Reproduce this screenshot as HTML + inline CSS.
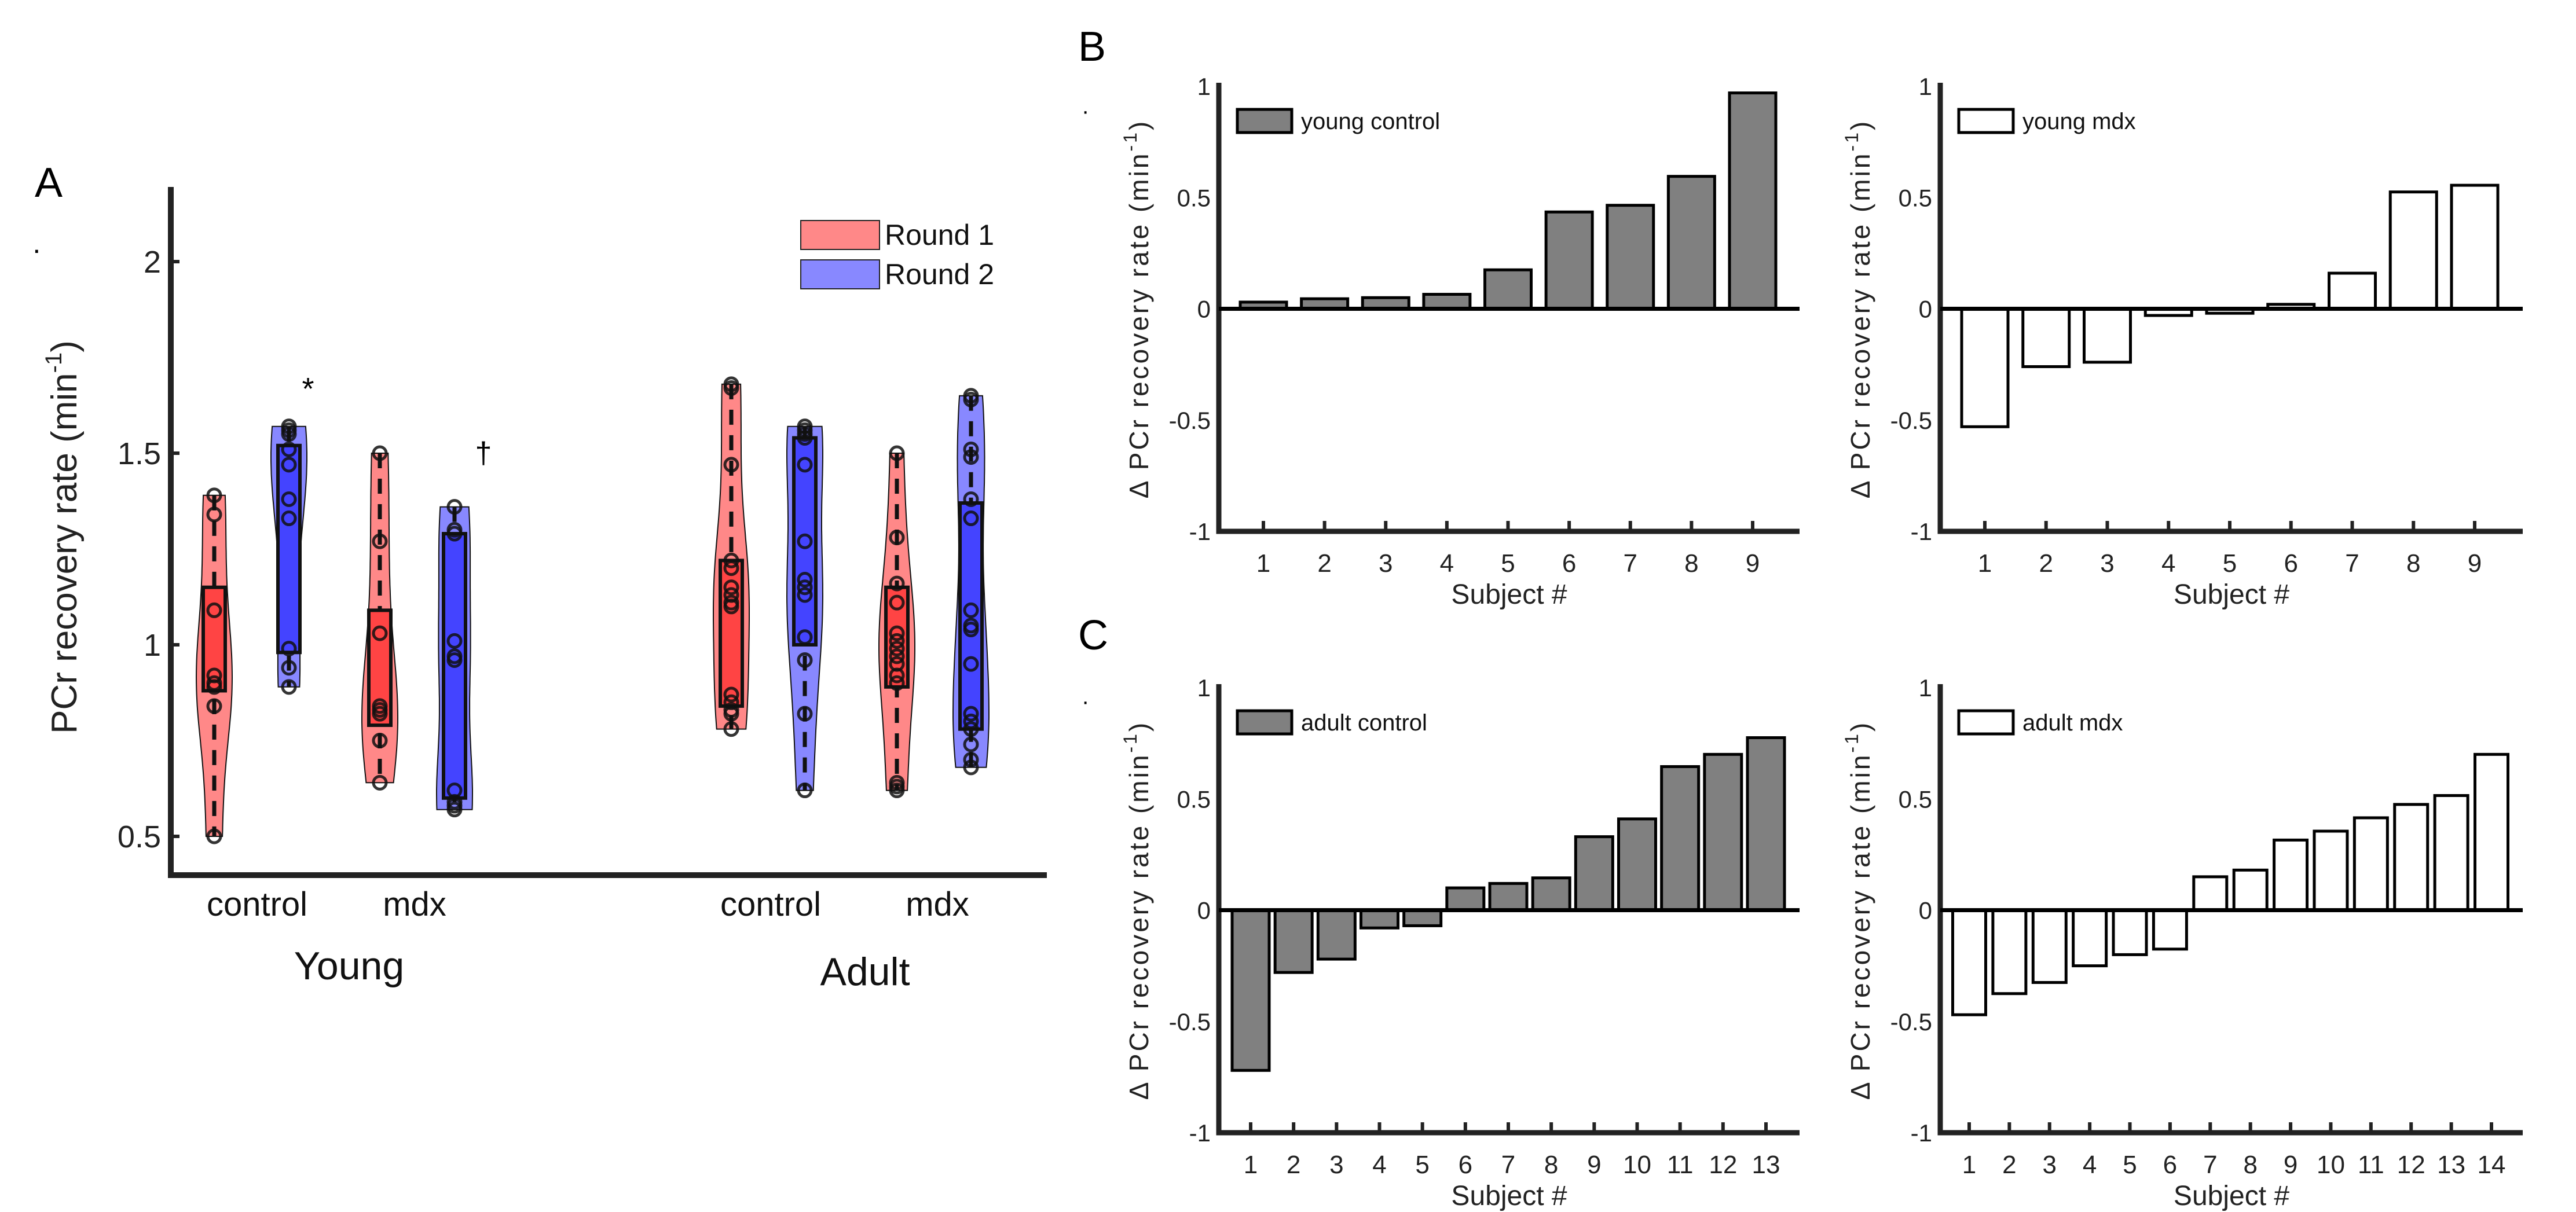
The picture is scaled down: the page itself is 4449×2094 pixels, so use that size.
<!DOCTYPE html>
<html><head><meta charset="utf-8"><style>
html,body{margin:0;padding:0;background:#fff}
svg{display:block;font-family:"Liberation Sans",Arial,sans-serif}
</style></head><body>
<svg id="fig" width="4449" height="2094" viewBox="0 0 4449 2094" xmlns="http://www.w3.org/2000/svg">
<rect width="4449" height="2094" fill="#fff"/>
<g id="panelA"></g>
<g id="panelB"></g>
<g id="panelC"></g>
</svg>
<script>
// ---- Panel A data ----
const groupLabels = ["young-control-r1","young-control-r2","young-mdx-r1","young-mdx-r2","adult-control-r1","adult-control-r2","adult-mdx-r1","adult-mdx-r2"];
const groupRound = [1,2,1,2,1,2,1,2];
const pts0 = [1.39,1.34,1.09,0.92,0.90,0.89,0.84,0.50];
const pts1 = [1.57,1.56,1.55,1.51,1.47,1.38,1.33,0.99,0.94,0.89];
const pts2 = [1.50,1.27,1.03,0.84,0.83,0.82,0.75,0.64];
const pts3 = [1.36,1.30,1.29,1.01,0.97,0.96,0.62,0.59,0.58,0.57];
const pts4 = [1.68,1.67,1.47,1.22,1.20,1.15,1.13,1.11,1.10,0.87,0.85,0.83,0.82,0.78];
const pts5 = [1.57,1.56,1.55,1.54,1.47,1.27,1.17,1.15,1.13,1.02,0.96,0.82,0.62];
const pts6 = [1.50,1.28,1.16,1.11,1.03,1.01,0.99,0.97,0.95,0.92,0.90,0.64,0.63,0.62];
const pts7 = [1.65,1.64,1.51,1.49,1.38,1.33,1.09,1.05,1.04,0.95,0.82,0.80,0.78,0.74,0.70,0.68];
const boxQ1 = [0.88,0.98,0.79,0.60,0.84,1.00,0.89,0.78];
const boxQ3 = [1.15,1.52,1.09,1.29,1.22,1.54,1.15,1.37];
const aTicks = [0.5,1,1.5,2];
// ---- Panel B/C data ----
const subjYC = [1,2,3,4,5,6,7,8,9];
const valYC = [0.03,0.045,0.05,0.065,0.175,0.435,0.465,0.595,0.97];
const subjYM = [1,2,3,4,5,6,7,8,9];
const valYM = [-0.53,-0.26,-0.24,-0.03,-0.02,0.02,0.16,0.525,0.555];
const subjAC = [1,2,3,4,5,6,7,8,9,10,11,12,13];
const valAC = [-0.72,-0.28,-0.22,-0.08,-0.07,0.10,0.12,0.145,0.33,0.41,0.645,0.70,0.775];
const subjAM = [1,2,3,4,5,6,7,8,9,10,11,12,13,14];
const valAM = [-0.47,-0.375,-0.325,-0.25,-0.20,-0.175,0.15,0.18,0.315,0.355,0.415,0.475,0.515,0.70];
const barTicks = [-1,-0.5,0,0.5,1];
const barTickLabels = ["-1","-0.5","0","0.5","1"];

const NS="http://www.w3.org/2000/svg";
function mk(parent,tag,attrs,text){const e=document.createElementNS(NS,tag);for(const k in attrs)e.setAttribute(k,attrs[k]);if(text!==undefined)e.textContent=text;parent.appendChild(e);return e;}

// ================= Panel A =================
const A=document.getElementById('panelA');
const yA=v=>1114-(v-1)*662;
const centers=[370,499,656,785,1263,1390,1549,1677];
const allPts=[pts0,pts1,pts2,pts3,pts4,pts5,pts6,pts7];
let t;
t=mk(A,'text',{x:60,y:340,'font-size':72},'A');


t=mk(A,'text',{x:55,y:448,'font-size':50},'·');


let ax=mk(A,'path',{d:'M295 323 L295 1512 L1808 1512',fill:'none',stroke:'#222','stroke-width':10});


aTicks.forEach(v=>{
  const tk=mk(A,'line',{x1:295,x2:310,y1:yA(v),y2:yA(v),stroke:'#222','stroke-width':6});
  
  
  const lb=mk(A,'text',{x:278,y:yA(v)+19,'font-size':54,'text-anchor':'end',fill:'#222'},String(v));
  
  
});
t=mk(A,'text',{transform:'translate(132,928) rotate(-90)','font-size':62,'text-anchor':'middle',fill:'#222'});


t.innerHTML='PCr recovery rate (min<tspan dy="-26" font-size="40">-1</tspan><tspan dy="26">)</tspan>';
allPts.forEach((p,i)=>{
  const cx=centers[i], r1=groupRound[i]===1;
  const mn=Math.min(...p), mx=Math.max(...p), bw=0.16, W=31, N=60;
  const dens=[];
  for(let k=0;k<=N;k++){const y=mn+(mx-mn)*k/N;let d=0;p.forEach(q=>{d+=Math.exp(-0.5*((y-q)/bw)**2)});dens.push([y,d]);}
  const dm=Math.max(...dens.map(d=>d[1]));
  let path='';
  dens.forEach((d,k)=>{path+=(k?'L':'M')+(cx+W*(0.25+0.75*d[1]/dm)).toFixed(1)+' '+yA(d[0]).toFixed(1)+' ';});
  for(let k=N;k>=0;k--){const d=dens[k];path+='L'+(cx-W*(0.25+0.75*d[1]/dm)).toFixed(1)+' '+yA(d[0]).toFixed(1)+' ';}
  path+='Z';
  const g=mk(A,'g',{});
  
  
  mk(g,'path',{d:path,fill:r1?'#ff8888':'#8888ff',stroke:'#111','stroke-width':2});
  mk(g,'line',{x1:cx,x2:cx,y1:yA(mx),y2:yA(mn),stroke:'#111','stroke-width':7,'stroke-dasharray':'26 18'});
  const bx=mk(g,'rect',{x:cx-19,y:yA(boxQ3[i]),width:38,height:yA(boxQ1[i])-yA(boxQ3[i]),fill:r1?'#ff4444':'#4444ff',stroke:'#111','stroke-width':6});
  
  
  p.forEach(v=>{
    const c=mk(g,'circle',{cx:cx,cy:yA(v),r:11,fill:'none',stroke:'#111','stroke-width':5,'stroke-opacity':0.85});
    
    
  });
});
t=mk(A,'text',{x:532,y:690,'font-size':54,'text-anchor':'middle'},'*');


t=mk(A,'text',{x:835,y:800,'font-size':52,'text-anchor':'middle'},'†');


[["control",444,1582,58],["mdx",716,1582,58],["control",1331,1582,58],["mdx",1619,1582,58],["Young",603,1692,68],["Adult",1494,1702,68]].forEach(l=>{
  const e=mk(A,'text',{x:l[1],y:l[2],'font-size':l[3],'text-anchor':'middle',fill:'#111'},l[0]);
  
  
});
[[1,"#ff8888","Round 1",381],[2,"#8888ff","Round 2",449]].forEach(l=>{
  const g=mk(A,'g',{});
  
  
  mk(g,'rect',{x:1383,y:l[3],width:136,height:50,fill:l[1],stroke:'#222','stroke-width':2});
  mk(g,'text',{x:1528,y:l[3]+42,'font-size':50,fill:'#111'},l[2]);
});

// ================= Bar panels =================
function barPanel(parent,name,x0,x1,yTop,yBot,subj,vals,filled,legend,c1,cN,bw){
  const y0=(yTop+yBot)/2, unit=(yBot-yTop)/2;
  const yS=v=>y0-v*unit;
  const xS=s=>c1+(cN-c1)*(s-1)/(subj.length-1);
  const g=mk(parent,'g',{});
  
  
  const axl=mk(g,'path',{d:`M${x0} ${yTop-6} L${x0} ${yBot} L${x1} ${yBot}`,fill:'none',stroke:'#222','stroke-width':9});
  
  
  barTicks.forEach((v,i)=>{
    const lb=mk(g,'text',{x:x0-14,y:yS(v)+15,'font-size':42,'text-anchor':'end',fill:'#222'},barTickLabels[i]);
    
    
  });
  subj.forEach((s,i)=>{
    const v=vals[i], y=yS(v);
    const b=mk(g,'rect',{x:xS(s)-bw/2,y:Math.min(y,y0),width:bw,height:Math.abs(y-y0),fill:filled?'#808080':'#fff',stroke:'#000','stroke-width':5});
    
    
    const tk=mk(g,'line',{x1:xS(s),x2:xS(s),y1:yBot,y2:yBot-18,stroke:'#222','stroke-width':6});
    
    
    const lb=mk(g,'text',{x:xS(s),y:yBot+70,'font-size':44,'text-anchor':'middle',fill:'#222'},String(s));
    
    
  });
  const zl=mk(g,'line',{x1:x0,x2:x1,y1:y0,y2:y0,stroke:'#000','stroke-width':7});
  
  
  const xt=mk(g,'text',{x:(x0+x1)/2,y:yBot+125,'font-size':48,'text-anchor':'middle',fill:'#222'},'Subject #');
  
  
  const yt=mk(g,'text',{transform:`translate(${x0-122},${y0}) rotate(-90)`,'font-size':46,'text-anchor':'middle',fill:'#222','letter-spacing':'4'});
  
  
  yt.innerHTML='Δ PCr recovery rate (min<tspan dy="-20" font-size="32">-1</tspan><tspan dy="20">)</tspan>';
  const lg=mk(g,'g',{});
  
  
  mk(lg,'rect',{x:x0+32,y:yTop+40,width:94,height:40,fill:filled?'#808080':'#fff',stroke:'#000','stroke-width':5});
  mk(lg,'text',{x:x0+142,y:yTop+74,'font-size':40,fill:'#111'},legend);
}
const B=document.getElementById('panelB');
t=mk(B,'text',{x:1862,y:105,'font-size':72},'B');


t=mk(B,'text',{x:1868,y:205,'font-size':40},'·');


barPanel(B,'chart-young-control',2105,3108,149,918,subjYC,valYC,true,'young control',2182,3027,80);
barPanel(B,'chart-young-mdx',3351,4357,149,918,subjYM,valYM,false,'young mdx',3428,4274,80);
const C=document.getElementById('panelC');
t=mk(C,'text',{x:1862,y:1122,'font-size':72},'C');


t=mk(C,'text',{x:1868,y:1225,'font-size':40},'·');


barPanel(C,'chart-adult-control',2105,3108,1188,1957,subjAC,valAC,true,'adult control',2160,3050,64);
barPanel(C,'chart-adult-mdx',3351,4357,1188,1957,subjAM,valAM,false,'adult mdx',3401,4303,57);
</script>
</body></html>
